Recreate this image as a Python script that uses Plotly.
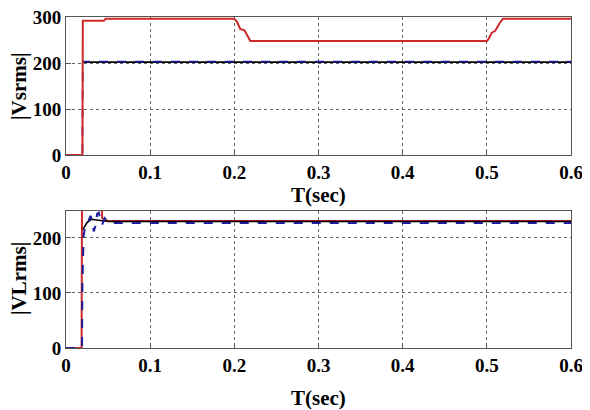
import plotly.graph_objects as go

# ---- Top panel: |Vsrms| ----
t_src_red = [0, 0.0195, 0.02, 0.045, 0.047, 0.2, 0.203, 0.207, 0.212, 0.215, 0.219, 0.5, 0.502, 0.506, 0.51, 0.515, 0.519, 0.6]
v_src_red = [0, 0, 292, 292, 296, 296, 290, 274, 271, 262, 248, 248, 252, 266, 270, 286, 296, 296]

t_src_blue = [0, 0.0195, 0.02, 0.6]
v_src_blue = [0, 0, 203, 203]

t_src_black = [0.02, 0.6]
v_src_black = [202, 202]

# ---- Bottom panel: |VLrms| ----
t_load_red = [0, 0.0185, 0.019, 0.0425, 0.043, 0.046, 0.05, 0.6]
v_load_red = [0, 0, 255, 255, 236, 233, 231, 231]

t_load_blue = [0, 0.019, 0.0195, 0.021, 0.023, 0.026, 0.029, 0.031, 0.033, 0.035, 0.037, 0.039, 0.041, 0.043, 0.046, 0.05, 0.055, 0.6]
v_load_blue = [0, 0, 118, 205, 222, 228, 240, 232, 212, 222, 244, 246, 232, 224, 236, 229, 227, 227]

t_load_black = [0.02, 0.025, 0.03, 0.04, 0.05, 0.6]
v_load_black = [215, 228, 234, 232, 230, 230]

x_ticks = [0, 0.1, 0.2, 0.3, 0.4, 0.5, 0.6]
x_labels = ["0", "0.1", "0.2", "0.3", "0.4", "0.5", "0.6"]
y_ticks_top = [0, 100, 200, 300]
y_ticks_bot = [0, 100, 200]

RED = "#cc2a2a"
BLUE = "#1c1c9c"

fig = go.Figure()
fig.add_trace(go.Scatter(x=t_src_black, y=v_src_black, mode="lines", line=dict(color="black", width=1.6), xaxis="x", yaxis="y"))
fig.add_trace(go.Scatter(x=t_src_blue, y=v_src_blue, mode="lines", line=dict(color=BLUE, width=1.8, dash="dash"), xaxis="x", yaxis="y"))
fig.add_trace(go.Scatter(x=t_src_red, y=v_src_red, mode="lines", line=dict(color=RED, width=2), xaxis="x", yaxis="y"))

fig.add_trace(go.Scatter(x=t_load_red, y=v_load_red, mode="lines", line=dict(color=RED, width=2), xaxis="x2", yaxis="y2"))
fig.add_trace(go.Scatter(x=t_load_black, y=v_load_black, mode="lines", line=dict(color="black", width=1.6), xaxis="x2", yaxis="y2"))
fig.add_trace(go.Scatter(x=t_load_blue, y=v_load_blue, mode="lines", line=dict(color=BLUE, width=2, dash="dash"), xaxis="x2", yaxis="y2"))

tickfont = dict(family="Liberation Serif", size=19, color="black", weight="bold")
titlefont = dict(family="Liberation Serif", size=21, color="black", weight="bold")

axis_common = dict(
    showline=True, linecolor="#555555", linewidth=1, mirror=True,
    showgrid=True, gridcolor="#666666", gridwidth=1, griddash="dot",
    zeroline=False, ticks="inside", ticklen=5, tickcolor="#555555",
    tickfont=tickfont, automargin=False, ticklabeloverflow="allow",
)

# page body has an 8px margin, so the figure is 582x402 and offset by (8, 8)
W, H = 582, 402

fig.update_layout(
    width=W, height=H,
    margin=dict(l=0, r=0, t=0, b=0),
    paper_bgcolor="white", plot_bgcolor="white",
    showlegend=False,
    xaxis=dict(domain=[58 / W, 563 / W], anchor="y", range=[0, 0.6],
               tickvals=x_ticks, ticktext=x_labels, **axis_common),
    yaxis=dict(domain=[1 - 147 / H, 1 - 9 / H], anchor="x", range=[0, 300],
               tickvals=y_ticks_top, **axis_common),
    xaxis2=dict(domain=[58 / W, 563 / W], anchor="y2", range=[0, 0.6],
                tickvals=x_ticks, ticktext=x_labels, **axis_common),
    yaxis2=dict(domain=[1 - 340 / H, 1 - 203 / H], anchor="x2", range=[0, 249],
                tickvals=y_ticks_bot, **axis_common),
)

titles = [
    dict(text="T(sec)", x=310 / W, y=1 - 187 / H, textangle=0),
    dict(text="T(sec)", x=310 / W, y=1 - 390 / H, textangle=0),
    dict(text="|Vsrms|", x=11 / W, y=1 - 78 / H, textangle=-90),
    dict(text="|VLrms|", x=11 / W, y=1 - 271 / H, textangle=-90),
]
for a in titles:
    fig.add_annotation(text=a["text"], x=a["x"], y=a["y"], xref="paper", yref="paper",
                       xanchor="center", yanchor="middle", showarrow=False,
                       textangle=a["textangle"], font=titlefont)

fig.write_html("out.html")
